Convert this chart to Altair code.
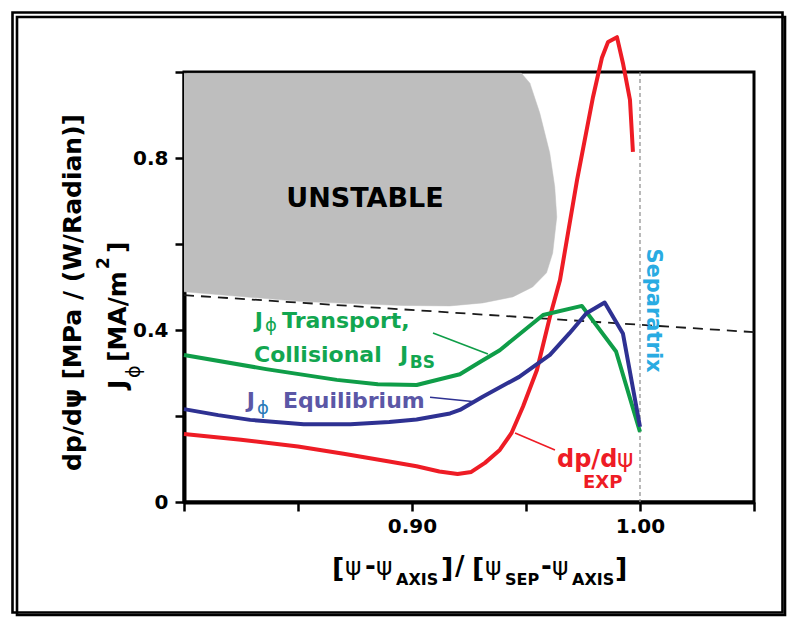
import altair as alt
import pandas as pd

# ---------------- data ----------------
red_x = [0.800, 0.825, 0.850, 0.870, 0.890, 0.902, 0.912, 0.920, 0.926, 0.932, 0.9385, 0.9436,
         0.9487, 0.9548, 0.9605, 0.9649, 0.9724, 0.9794, 0.9833, 0.986, 0.9899, 0.9925, 0.9956, 0.9969]
red_y = [0.158, 0.145, 0.129, 0.112, 0.094, 0.083, 0.071, 0.065, 0.070, 0.091, 0.121, 0.160,
         0.222, 0.307, 0.431, 0.516, 0.749, 0.942, 1.033, 1.070, 1.081, 1.021, 0.935, 0.814]

green_x = [0.800, 0.836, 0.867, 0.885, 0.902, 0.921, 0.930, 0.9385, 0.9575, 0.9745, 0.9895, 1.000]
green_y = [0.342, 0.309, 0.284, 0.274, 0.272, 0.297, 0.326, 0.353, 0.435, 0.456, 0.350, 0.163]

blue_x = [0.800, 0.815, 0.829, 0.8525, 0.873, 0.890, 0.902, 0.9167, 0.921, 0.931, 0.947,
          0.9605, 0.969, 0.9765, 0.9845, 0.9925, 1.000]
blue_y = [0.216, 0.202, 0.191, 0.181, 0.181, 0.186, 0.192, 0.206, 0.214, 0.245, 0.291,
          0.342, 0.392, 0.439, 0.464, 0.392, 0.175]

dash_x = [0.80, 1.05]
dash_y = [0.481, 0.395]

unstable_x = [0.800, 0.948, 0.9517, 0.956, 0.9604, 0.9626, 0.9635, 0.9617, 0.959, 0.9529,
              0.9442, 0.931, 0.9166, 0.896, 0.852, 0.800]
unstable_y = [0.997, 0.997, 0.974, 0.905, 0.812, 0.733, 0.663, 0.579, 0.533, 0.500,
              0.477, 0.463, 0.456, 0.457, 0.466, 0.489]

separatrix_x = 1.00

x_tick_values = [0.80, 0.85, 0.90, 0.95, 1.00, 1.05]
x_tick_labels = ["", "", "0.90", "", "1.00", ""]
y_tick_values = [0.0, 0.2, 0.4, 0.6, 0.8, 1.0]
y_tick_labels = ["0", "", "0.4", "", "0.8", ""]

# ---------------- styling ----------------
FONT = "DejaVu Sans"
RED = "#ee1c25"
GREEN = "#0f9d48"
GREEN_T = "#12a650"
BLUE = "#2e3192"
BLUE_T = "#5b57a6"
BLUE_PHI = "#2a7ab8"
CYAN = "#29abe2"
GRAY = "#bebebe"

OX, OY = 184, 72          # plot origin on the page
W, H = 570, 430


def label_expr(vals, labels):
    expr = "''"
    for v, l in reversed(list(zip(vals, labels))):
        expr = f"(abs(datum.value - {v}) < 1e-6 ? '{l}' : {expr})"
    return expr


xscale = alt.Scale(domain=[0.80, 1.05], nice=False, zero=False)
yscale = alt.Scale(domain=[0.0, 1.0], nice=False, zero=False)
common_axis = dict(title=None, grid=False, tickSize=9, tickWidth=2.5, tickColor="black",
                   domainColor="black", domainWidth=4, labelFont=FONT, labelFontWeight="bold",
                   labelFontSize=20, labelColor="black", labelOverlap=False, labelFlush=False)
xaxis = alt.Axis(values=x_tick_values, labelExpr=label_expr(x_tick_values, x_tick_labels),
                 labelPadding=5, **common_axis)
yaxis = alt.Axis(values=y_tick_values, labelExpr=label_expr(y_tick_values, y_tick_labels),
                 labelPadding=7, **common_axis)


def X(f="x"):
    return alt.X(f"{f}:Q", scale=xscale, axis=xaxis)


def Y(f="y"):
    return alt.Y(f"{f}:Q", scale=yscale, axis=yaxis)


def series(xs, ys):
    return pd.DataFrame({"x": xs, "y": ys, "i": list(range(len(xs)))})


def line(xs, ys, color, width, dash=None):
    kw = dict(color=color, strokeWidth=width, strokeJoin="round", strokeCap="butt")
    if dash:
        kw["strokeDash"] = dash
    return alt.Chart(series(xs, ys)).mark_line(**kw).encode(x=X(), y=Y(), order="i:Q")


def dtext(x, y, text, size, color, weight="bold", align="left", angle=0):
    d = pd.DataFrame({"x": [x], "y": [y], "t": [text]})
    return alt.Chart(d).mark_text(font=FONT, fontSize=size, fontWeight=weight, color=color,
                                  align=align, baseline="alphabetic", angle=angle).encode(
        x=X(), y=Y(), text="t:N")


def ptext(px, py, text, size, color="black", weight="bold", align="left", angle=0):
    d = pd.DataFrame({"t": [text]})
    return alt.Chart(d).mark_text(font=FONT, fontSize=size, fontWeight=weight, color=color,
                                  align=align, baseline="alphabetic", angle=angle).encode(
        x=alt.value(px - OX), y=alt.value(py - OY), text="t:N")


def leader(x1, y1, x2, y2, color):
    d = pd.DataFrame({"x": [x1], "y": [y1], "x2": [x2], "y2": [y2]})
    return alt.Chart(d).mark_rule(color=color, strokeWidth=1.6).encode(
        x=X(), y=Y(), x2="x2:Q", y2="y2:Q")


one = pd.DataFrame({"a": [0]})

layers = []

# outer double frame
for (x1, y1, x2, y2) in [(12.5, 12.5, 782.5, 612.5), (17, 17, 785, 615)]:
    layers.append(alt.Chart(one).mark_rect(fill="transparent", stroke="black", strokeWidth=2.6).encode(
        x=alt.value(x1 - OX), x2=alt.value(x2 - OX), y=alt.value(y1 - OY), y2=alt.value(y2 - OY)))

# unstable region (closed polygon)
layers.append(alt.Chart(series(unstable_x, unstable_y)).mark_line(
    fill=GRAY, stroke=GRAY, strokeWidth=0.5).encode(x=X(), y=Y(), order="i:Q"))

# separatrix
layers.append(alt.Chart(one).mark_rule(color="#8a8a8a", strokeWidth=1.2, strokeDash=[4, 3]).encode(
    x=alt.X(datum=separatrix_x, scale=xscale, axis=xaxis)))

# stability boundary dashed
layers.append(line(dash_x, dash_y, "#1a1a1a", 1.8, dash=[10, 7]))

# curves
layers.append(line(red_x, red_y, RED, 4))
layers.append(line(green_x, green_y, GREEN, 4))
layers.append(line(blue_x, blue_y, BLUE, 4))

# leaders
layers.append(leader(0.9092, 0.393, 0.9333, 0.344, GREEN))
layers.append(leader(0.9079, 0.2435, 0.9276, 0.2333, BLUE))
layers.append(leader(0.9452, 0.1605, 0.9627, 0.121, RED))

# in-plot annotations
layers += [
    dtext(0.8794, 0.6867, "UNSTABLE", 27, "black", align="center"),
    dtext(0.8310, 0.4047, "J", 22, GREEN_T),
    dtext(0.8355, 0.3977, "\u03d5", 18, GREEN_T, weight="normal"),
    dtext(0.8430, 0.4047, "Transport,", 22, GREEN_T),
    dtext(0.8307, 0.3256, "Collisional", 22, GREEN_T),
    dtext(0.8947, 0.3256, "J", 22, GREEN_T),
    dtext(0.8990, 0.3116, "BS", 17, GREEN_T),
    dtext(0.8275, 0.2186, "J", 22, BLUE_T),
    dtext(0.8320, 0.2047, "\u03d5", 18, BLUE_PHI, weight="normal"),
    dtext(0.8434, 0.2186, "Equilibrium", 22, BLUE_T),
    dtext(0.9636, 0.0814, "dp/d", 24, RED),
    dtext(0.9899, 0.0814, "\u03c8", 25, RED, weight="normal"),
    dtext(0.9750, 0.0320, "EXP", 18, RED),
    dtext(1.0031, 0.4453, "Separatrix", 21, CYAN, align="center", angle=90),
]

# y-axis title (two rotated lines)
layers += [
    ptext(81, 292.5, "dp/d\u03c8 [MPa / (W/Radian)]", 25, align="center", angle=270),
    ptext(126, 389, "J", 25, angle=270),
    ptext(140, 378, "\u03d5", 19, weight="normal", angle=270),
    ptext(126, 362, "[MA/m", 25, angle=270),
    ptext(109, 269, "2", 17, angle=270),
    ptext(126, 253, "]", 25, angle=270),
]

# x-axis title pieces
xt = [(332, "[", 27, 577, "bold"), (345, "\u03c8", 25, 575, "normal"), (365, "-", 26, 575, "bold"),
      (376, "\u03c8", 25, 575, "normal"), (441, "]", 27, 577, "bold"), (455, "/", 26, 575, "bold"),
      (472, "[", 27, 577, "bold"), (485, "\u03c8", 25, 575, "normal"), (541, "-", 26, 575, "bold"),
      (552, "\u03c8", 25, 575, "normal"), (615, "]", 27, 577, "bold")]
for px, t, s, py, wt in xt:
    layers.append(ptext(px, py, t, s, weight=wt))
for px, t in [(396, "AXIS"), (505, "SEP"), (572, "AXIS")]:
    layers.append(ptext(px, 585, t, 16))

chart = alt.layer(*layers).properties(
    width=W, height=H,
    autosize=alt.AutoSizeParams(type="none"),
    padding={"left": OX, "top": OY, "right": 789 - OX - W, "bottom": 618 - OY - H},
    background="white",
).configure_view(stroke="black", strokeWidth=3)

chart.save("out.html", embed_options={"renderer": "svg", "actions": False})
